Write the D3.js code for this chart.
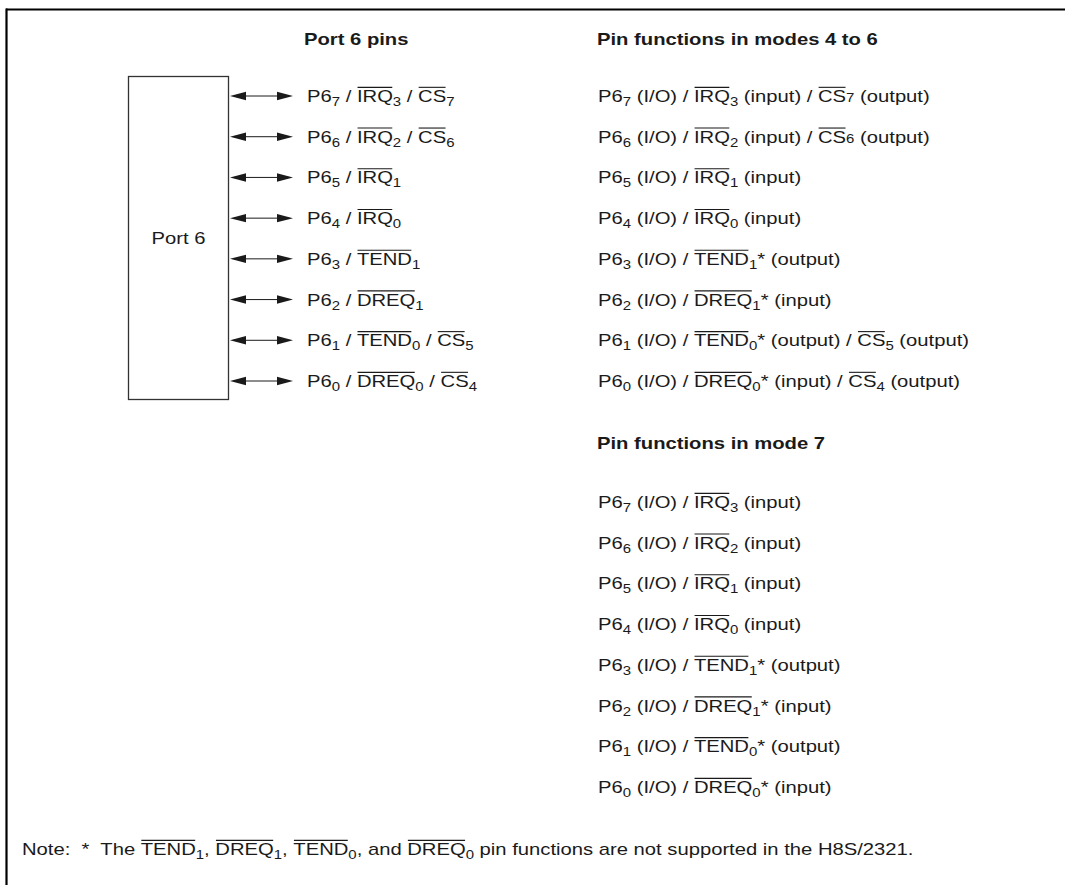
<!DOCTYPE html>
<html>
<head>
<meta charset="utf-8">
<script src="https://cdn.jsdelivr.net/npm/d3@7"></script>
<style>
  html, body { margin: 0; padding: 0; background: #fff; }
  svg { display: block; }
</style>
</head>
<body>
<svg id="fig" width="1065" height="885"></svg>
<script>
// markup: ~abc~ = overline, _x = subscript char, ^x = small char on the baseline
const portTitle = "Port 6 pins"
const modes46Title = "Pin functions in modes 4 to 6"
const mode7Title = "Pin functions in mode 7"
const boxLabel = "Port 6"

const portPins = [
  "P6_7 / ~IRQ~_3 / ~CS~_7",
  "P6_6 / ~IRQ~_2 / ~CS~_6",
  "P6_5 / ~IRQ~_1",
  "P6_4 / ~IRQ~_0",
  "P6_3 / ~TEND~_1",
  "P6_2 / ~DREQ~_1",
  "P6_1 / ~TEND~_0 / ~CS~_5",
  "P6_0 / ~DREQ~_0 / ~CS~_4"
]

const modes46 = [
  "P6_7 (I/O) / ~IRQ~_3 (input) / ~CS~^7 (output)",
  "P6_6 (I/O) / ~IRQ~_2 (input) / ~CS~^6 (output)",
  "P6_5 (I/O) / ~IRQ~_1 (input)",
  "P6_4 (I/O) / ~IRQ~_0 (input)",
  "P6_3 (I/O) / ~TEND~_1* (output)",
  "P6_2 (I/O) / ~DREQ~_1* (input)",
  "P6_1 (I/O) / ~TEND~_0* (output) / ~CS~_5 (output)",
  "P6_0 (I/O) / ~DREQ~_0* (input) / ~CS~_4 (output)"
]

const mode7 = [
  "P6_7 (I/O) / ~IRQ~_3 (input)",
  "P6_6 (I/O) / ~IRQ~_2 (input)",
  "P6_5 (I/O) / ~IRQ~_1 (input)",
  "P6_4 (I/O) / ~IRQ~_0 (input)",
  "P6_3 (I/O) / ~TEND~_1* (output)",
  "P6_2 (I/O) / ~DREQ~_1* (input)",
  "P6_1 (I/O) / ~TEND~_0* (output)",
  "P6_0 (I/O) / ~DREQ~_0* (input)"
]

const noteText = "Note:  *  The ~TEND~_1, ~DREQ~_1, ~TEND~_0, and ~DREQ~_0 pin functions are not supported in the H8S/2321."

const W = 1065, H = 885
const fontSize = 17
const sx = 1.19 // horizontal stretch of the original scan
const capH = fontSize * 0.716
const ink = "#1a1a1a"

const svg = d3.select("#fig")

// rows, as centre lines
const yPins = d3.scalePoint().domain(d3.range(portPins.length)).range([96, 381])
const yMode7 = d3.scalePoint().domain(d3.range(mode7.length)).range([502, 787])

// split a markup string into runs
function parse(str) {
  const out = []
  let buf = "", over = false
  const flush = () => { if (buf) out.push({ text: buf, kind: "n", over }); buf = "" }
  for (let i = 0; i < str.length; i++) {
    const c = str[i]
    if (c === "~") { flush(); over = !over }
    else if (c === "_" || c === "^") {
      flush()
      out.push({ text: str[i + 1], kind: c === "_" ? "sub" : "small", over: false })
      i++
    } else buf += c
  }
  flush()
  return out
}

// draw one line of rich text with its baseline at y, returns its width
function richText(str, x, y, bold) {
  const g = svg.append("g").attr("transform", `translate(${x},${y}) scale(${sx},1)`)
  let cx = 0
  parse(str).forEach(run => {
    const size = run.kind === "n" ? fontSize : fontSize * 0.74
    const dy = run.kind === "sub" ? 4 : 0
    const t = g.append("text")
      .attr("x", cx).attr("y", dy)
      .attr("xml:space", "preserve")
      .style("white-space", "pre")
      .attr("font-family", "'Liberation Sans', Arial, Helvetica, sans-serif")
      .attr("font-size", size)
      .attr("font-weight", bold ? "bold" : "normal")
      .attr("fill", ink)
      .text(run.text)
    const w = t.node().getComputedTextLength()
    if (run.over) {
      g.append("line")
        .attr("x1", cx + 0.5).attr("x2", cx + w - 0.5)
        .attr("y1", -capH - 2.5).attr("y2", -capH - 2.5)
        .attr("stroke", ink).attr("stroke-width", 1.1)
    }
    cx += w
  })
  return { g, width: cx * sx }
}

// cropped frame: top and left edges only
svg.append("line").attr("x1", 6).attr("x2", W).attr("y1", 9.5).attr("y2", 9.5)
  .attr("stroke", "#000").attr("stroke-width", 2.2)
svg.append("line").attr("x1", 6.5).attr("x2", 6.5).attr("y1", 8.5).attr("y2", H)
  .attr("stroke", "#000").attr("stroke-width", 2.2)

// port block
const box = { x0: 128.5, x1: 228.5, y0: 76.5, y1: 399.5 }
svg.append("rect")
  .attr("x", box.x0).attr("y", box.y0)
  .attr("width", box.x1 - box.x0).attr("height", box.y1 - box.y0)
  .attr("fill", "none").attr("stroke", "#333").attr("stroke-width", 1.3)

const lbl = richText(boxLabel, 0, (box.y0 + box.y1) / 2 + 6, false)
lbl.g.attr("transform", `translate(${(box.x0 + box.x1) / 2 - lbl.width / 2},${(box.y0 + box.y1) / 2 + 6}) scale(${sx},1)`)

// double-headed arrows
const ax0 = 230, ax1 = 293, headL = 16, headH = 4.2
portPins.forEach((_, i) => {
  const y = yPins(i)
  svg.append("line").attr("x1", ax0 + 4).attr("x2", ax1 - 4).attr("y1", y).attr("y2", y)
    .attr("stroke", ink).attr("stroke-width", 1)
  svg.append("path")
    .attr("d", `M${ax0},${y}L${ax0 + headL},${y - headH}L${ax0 + headL},${y + headH}Z`)
    .attr("fill", ink)
  svg.append("path")
    .attr("d", `M${ax1},${y}L${ax1 - headL},${y - headH}L${ax1 - headL},${y + headH}Z`)
    .attr("fill", ink)
})

// headings
richText(portTitle, 304, 45, true)
richText(modes46Title, 597, 45, true)
richText(mode7Title, 597, 449, true)

// pin labels
portPins.forEach((s, i) => richText(s, 307, yPins(i) + 6, false))
modes46.forEach((s, i) => richText(s, 598, yPins(i) + 6, false))
mode7.forEach((s, i) => richText(s, 598, yMode7(i) + 6, false))

// footnote
richText(noteText, 22, 855, false)
</script>
</body>
</html>
